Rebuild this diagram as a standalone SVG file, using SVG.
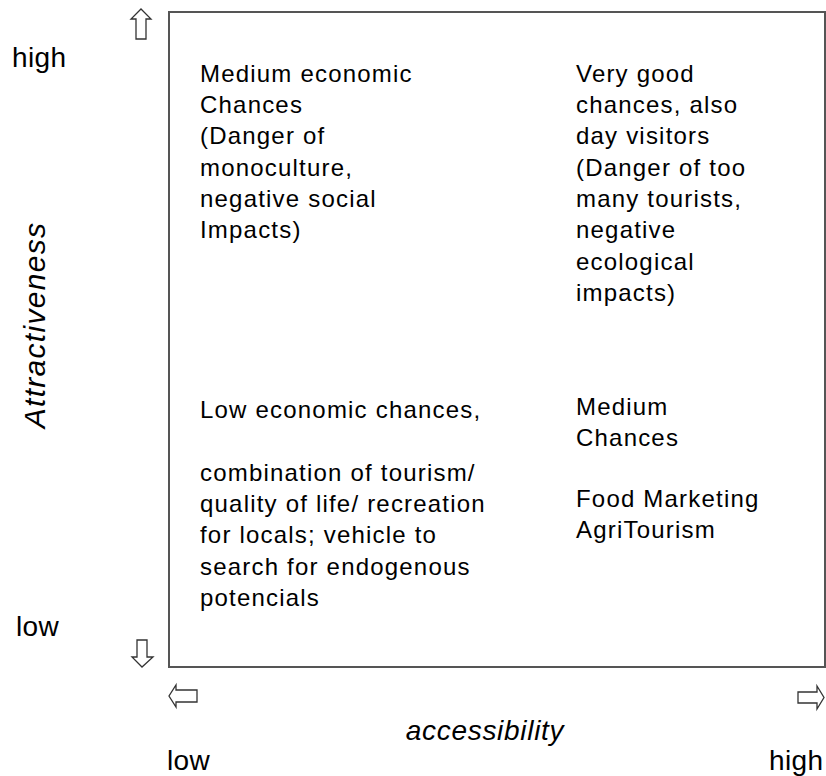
<svg xmlns="http://www.w3.org/2000/svg" width="826" height="776" viewBox="0 0 826 776">
<style>
.t{font-family:"Liberation Sans",Arial,sans-serif;font-size:24px;fill:#000;letter-spacing:1.2px}
.lab{font-family:"Liberation Sans",Arial,sans-serif;font-size:28px;fill:#000;letter-spacing:0.4px}
.it{font-family:"Liberation Sans",Arial,sans-serif;font-size:28px;font-style:italic;fill:#000;letter-spacing:0.7px}
.va{font-size:30px;letter-spacing:1.3px}
.arr{fill:#fff;stroke:#333;stroke-width:1.3;stroke-linejoin:miter}
</style>
<rect width="826" height="776" fill="#fff"/>
<g id="frame"><rect x="169" y="12" width="656" height="655" fill="none" stroke="#555" stroke-width="2"/></g>
<g id="axes">
<path class="arr" d="M136,39 L136,19 L131,19 L141,9 L151,19 L146,19 L146,39 Z"/>
<path class="arr" d="M137,640 L147,640 L147,657 L153,657 L142,667 L132,657 L137,657 Z"/>
<path class="arr" d="M197,690 L197,702 L176,702 L176,707 L169,696 L176,685 L176,690 Z"/>
<path class="arr" d="M798,692 L798,703 L817,703 L817,709 L824,697.5 L817,686 L817,692 Z"/>
<text class="lab" x="12" y="67">high</text>
<text class="lab" x="16" y="636">low</text>
<text class="it va" transform="translate(45,325) rotate(-90)" text-anchor="middle">Attractiveness</text>
<text class="it" x="485" y="740" text-anchor="middle">accessibility</text>
<text class="lab" x="167" y="770">low</text>
<text class="lab" x="769" y="770">high</text>
</g>
<g id="q-top-left">
<text class="t" x="200" y="82">Medium economic</text>
<text class="t" x="200" y="113">Chances</text>
<text class="t" x="200" y="144">(Danger of</text>
<text class="t" x="200" y="176">monoculture,</text>
<text class="t" x="200" y="207">negative social</text>
<text class="t" x="200" y="238">Impacts)</text>
</g>
<g id="q-top-right">
<text class="t" x="576" y="82">Very good</text>
<text class="t" x="576" y="113">chances, also</text>
<text class="t" x="576" y="144">day visitors</text>
<text class="t" x="576" y="176">(Danger of too</text>
<text class="t" x="576" y="207">many tourists,</text>
<text class="t" x="576" y="238">negative</text>
<text class="t" x="576" y="270">ecological</text>
<text class="t" x="576" y="301">impacts)</text>
</g>
<g id="q-bottom-left">
<text class="t" x="200" y="418">Low economic chances,</text>
<text class="t" x="200" y="481">combination of tourism/</text>
<text class="t" x="200" y="512">quality of life/ recreation</text>
<text class="t" x="200" y="543">for locals; vehicle to</text>
<text class="t" x="200" y="575">search for endogenous</text>
<text class="t" x="200" y="606">potencials</text>
</g>
<g id="q-bottom-right">
<text class="t" x="576" y="415">Medium</text>
<text class="t" x="576" y="446">Chances</text>
<text class="t" x="576" y="507">Food Marketing</text>
<text class="t" x="576" y="538">AgriTourism</text>
</g>
</svg>
